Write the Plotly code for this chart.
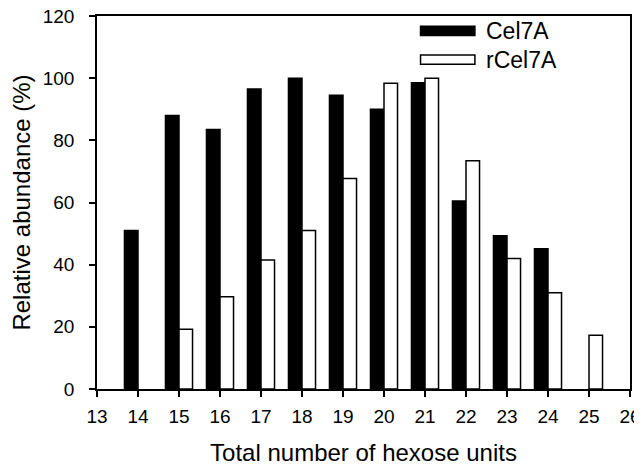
import plotly.graph_objects as go

hexose_units = [14, 15, 16, 17, 18, 19, 20, 21, 22, 23, 24, 25]
cel7a = [51, 88, 83.5, 96.5, 100, 94.5, 90, 98.5, 60.5, 49.3, 45.1, None]
rcel7a = [None, 19.2, 29.7, 41.5, 51, 67.7, 98.4, 100, 73.4, 42, 31, 17.3]
series_names = ["Cel7A", "rCel7A"]

FONT = "Liberation Sans, Arial, sans-serif"

fig = go.Figure()
fig.add_trace(go.Bar(x=hexose_units, y=cel7a, name=series_names[0],
                     marker=dict(color="black", line=dict(color="black", width=1.5)),
                     showlegend=False))
fig.add_trace(go.Bar(x=hexose_units, y=rcel7a, name=series_names[1],
                     marker=dict(color="white", line=dict(color="black", width=1.5)),
                     showlegend=False))

# legend drawn as wide rectangles like the original
legend_items = [("black", series_names[0], 0.960), ("white", series_names[1], 0.883)]
shapes = []
annotations = []
for fill, name, yc in legend_items:
    shapes.append(dict(type="rect", xref="paper", yref="paper",
                       x0=0.607, x1=0.709, y0=yc - 0.0125, y1=yc + 0.0125,
                       fillcolor=fill, line=dict(color="black", width=1.5)))
    annotations.append(dict(xref="paper", yref="paper", x=0.727, y=yc,
                            text=name, showarrow=False, xanchor="left", yanchor="middle",
                            font=dict(family=FONT, size=23, color="black")))

# the page body adds an 8px offset, so the figure is sized to fill the rest
fig.update_layout(
    width=634, height=459,
    margin=dict(l=89, r=12, t=8, b=78, autoexpand=False),
    paper_bgcolor="white", plot_bgcolor="white",
    barmode="group", bargap=0.34, bargroupgap=0,
    font=dict(family=FONT, size=19, color="black"),
    shapes=shapes, annotations=annotations,
    xaxis=dict(range=[13, 26], tickmode="linear", tick0=13, dtick=1,
               showgrid=False, zeroline=False, showline=True, linecolor="black",
               linewidth=1.5, mirror=True, ticks="outside", ticklen=6,
               tickwidth=1.5, tickcolor="black", ticklabelstandoff=3,
               ticklabeloverflow="allow", automargin=False,
               title=dict(text="Total number of hexose units",
                          font=dict(family=FONT, size=24), standoff=19)),
    yaxis=dict(range=[0, 120], tickmode="linear", tick0=0, dtick=20,
               showgrid=False, zeroline=False, showline=True, linecolor="black",
               linewidth=1.5, mirror=True, ticks="outside", ticklen=6,
               tickwidth=1.5, tickcolor="black", ticklabelstandoff=11,
               ticklabeloverflow="allow", automargin=False,
               title=dict(text="Relative abundance (%)",
                          font=dict(family=FONT, size=24), standoff=6)),
)

fig.write_html("out.html")
